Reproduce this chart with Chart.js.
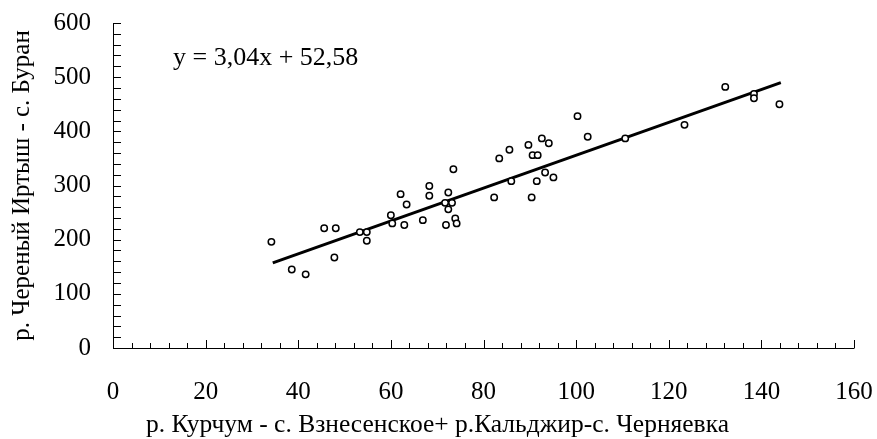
<!DOCTYPE html>
<html>
<head>
<meta charset="utf-8">
<script src="https://cdn.jsdelivr.net/npm/chart.js@4"></script>
<style>
html,body{margin:0;padding:0;background:#fff;}
#wrap{width:877px;height:439px;position:relative;}
</style>
</head>
<body>
<div id="wrap"><canvas id="c" width="877" height="439"></canvas></div>
<script>
const xValues = [34.2,38.6,41.6,45.6,48.1,47.8,53.3,54.8,54.8,60.0,60.3,62.9,62.1,63.4,
  66.9,68.3,68.3,71.7,72.4,73.2,72.4,73.5,73.9,74.2,71.9,82.3,83.4,85.6,86.0,89.7,
  90.6,91.7,92.6,94.1,90.4,91.5,93.3,95.1,100.3,102.5,110.6,123.4,132.2,138.4,138.4,143.9];
const yValues = [196,145,136,221,221,167,214,214,198,245,230,227,284,265,
  236,299,281,268,287,268,256,330,239,230,227,278,350,366,308,375,
  356,356,387,378,278,308,324,315,428,390,387,412,482,469,461,450];
const trendX = [34.5, 144.2];
const trendY = [157, 490];
const equationText = 'y = 3,04x + 52,58';
const xTitle = 'р. Курчум - с. Взнесенское+ р.Кальджир-с. Черняевка';
const yTitle = 'р. Череный Иртыш - с. Буран';

const FONT = '"Liberation Serif", "Times New Roman", serif';

const tickPlugin = {
  id: 'innerTicks',
  afterDraw(chart) {
    const ctx = chart.ctx;
    const xs = chart.scales.x, ys = chart.scales.y;
    const ca = chart.chartArea;
    ctx.save();
    ctx.strokeStyle = '#000';
    ctx.lineWidth = 1;
    ctx.beginPath();
    ctx.moveTo(ca.left + 0.5, ca.top);
    ctx.lineTo(ca.left + 0.5, ca.bottom + 0.5);
    ctx.lineTo(ca.right + 0.5, ca.bottom + 0.5);
    ctx.stroke();
    ctx.beginPath();
    for (let v = 0; v <= 160; v += 4) {
      const px = Math.round(xs.getPixelForValue(v)) + 0.5;
      const len = (v % 20 === 0) ? 8 : 5;
      ctx.moveTo(px, ca.bottom);
      ctx.lineTo(px, ca.bottom - len);
    }
    for (let v = 0; v <= 600; v += 20) {
      const py = Math.round(ys.getPixelForValue(v)) + 0.5;
      ctx.moveTo(ca.left, py);
      ctx.lineTo(ca.left + 8, py);
    }
    ctx.stroke();
    ctx.fillStyle = '#000';
    ctx.font = '26px ' + FONT;
    ctx.textAlign = 'left';
    ctx.textBaseline = 'alphabetic';
    ctx.fillText(equationText, xs.getPixelForValue(12.95), ys.getPixelForValue(522.5));
    // x axis title centred on the canvas
    ctx.font = '25.5px ' + FONT;
    ctx.textAlign = 'center';
    ctx.fillText(xTitle, chart.width / 2 - 1, 432);
    ctx.restore();
  }
};

new Chart(document.getElementById('c'), {
  type: 'scatter',
  data: {
    datasets: [
      {
        type: 'line',
        data: trendX.map((x, i) => ({x: x, y: trendY[i]})),
        borderColor: '#000',
        borderWidth: 3,
        pointRadius: 0,
        fill: false,
        order: 2
      },
      {
        data: xValues.map((x, i) => ({x: x, y: yValues[i]})),
        pointStyle: 'circle',
        pointRadius: 3.2,
        pointBorderWidth: 1.5,
        pointBackgroundColor: '#fff',
        pointBorderColor: '#000',
        order: 1
      }
    ]
  },
  options: {
    responsive: false,
    animation: false,
    layout: {padding: {left: 0, right: 23, top: 23, bottom: 0}},
    plugins: {legend: {display: false}, tooltip: {enabled: false}},
    scales: {
      x: {
        type: 'linear', min: 0, max: 160,
        border: {display: false},
        grid: {display: false, drawTicks: false},
        ticks: {stepSize: 20, padding: 29, color: '#000', font: {family: FONT, size: 25}},
        title: {display: false},
        afterFit(s) { s.height = 91; s.paddingLeft = 0; s.paddingRight = 0; }
      },
      y: {
        type: 'linear', min: 0, max: 600,
        border: {display: false},
        grid: {display: false, drawTicks: false},
        ticks: {stepSize: 100, padding: 22, color: '#000', font: {family: FONT, size: 25}},
        title: {display: true, text: yTitle, color: '#000', font: {family: FONT, size: 25}, padding: {top: 7, bottom: 0}},
        afterFit(s) { s.width = 113; s.paddingTop = 0; s.paddingBottom = 0; }
      }
    }
  },
  plugins: [tickPlugin]
});
</script>
</body>
</html>
